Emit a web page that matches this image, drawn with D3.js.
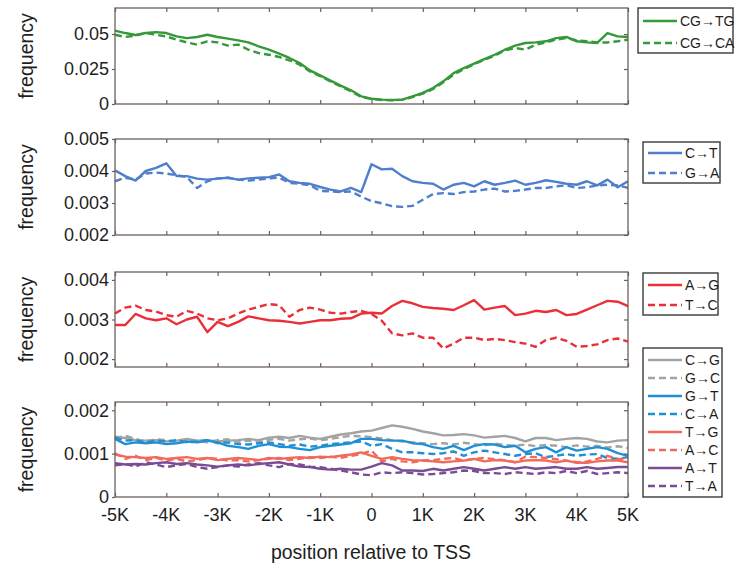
<!DOCTYPE html>
<html>
<head>
<meta charset="utf-8">
<script src="https://cdn.jsdelivr.net/npm/d3@7"></script>
<style>
  body { margin: 0; background: #fff; }
  text { font-family: "Liberation Sans", Arial, sans-serif; fill: #1e1e1e; }
</style>
</head>
<body>
<script>
// Sampling grid along the promoter region (bp relative to TSS).
const positions = d3.range(-5000, 5001, 200);
const xTicks = [-5000, -4000, -3000, -2000, -1000, 0, 1000, 2000, 3000, 4000, 5000];
const xTickLabels = ["-5K", "-4K", "-3K", "-2K", "-1K", "0", "1K", "2K", "3K", "4K", "5K"];

// Panel 1: CpG transitions
const cgTG = [0.0524,0.0507,0.0493,0.0507,0.0514,0.0507,0.0483,0.0471,0.0479,0.0495,0.0479,0.0467,0.0455,0.0440,0.0412,0.0388,0.0360,0.0329,0.0293,0.0240,0.0205,0.0167,0.0131,0.0098,0.0055,
  0.0038,0.0031,0.0029,0.0031,0.0055,0.0079,0.0114,0.0162,0.0221,0.0257,0.0288,0.0321,0.0352,0.0388,0.0417,0.0436,0.0440,0.0448,0.0471,0.0479,0.0448,0.0440,0.0436,0.0507,0.0483,0.0479];
const cgCA = [0.0495,0.0479,0.0488,0.0507,0.0495,0.0483,0.0460,0.0440,0.0424,0.0448,0.0440,0.0417,0.0424,0.0388,0.0364,0.0352,0.0336,0.0312,0.0281,0.0233,0.0198,0.0162,0.0126,0.0090,0.0050,
  0.0036,0.0029,0.0026,0.0031,0.0050,0.0074,0.0107,0.0155,0.0210,0.0250,0.0283,0.0317,0.0345,0.0383,0.0400,0.0388,0.0424,0.0440,0.0460,0.0471,0.0455,0.0448,0.0440,0.0440,0.0448,0.0460];

// Panel 2
const cT = [0.00402,0.00384,0.00370,0.00400,0.00410,0.00424,0.00384,0.00384,0.00376,0.00373,0.00376,0.00379,0.00373,0.00377,0.00379,0.00381,0.00389,0.00368,0.00363,0.00360,0.00350,0.00342,0.00336,0.00347,0.00334,
  0.00421,0.00405,0.00407,0.00384,0.00368,0.00363,0.00360,0.00342,0.00357,0.00363,0.00352,0.00368,0.00357,0.00363,0.00370,0.00357,0.00363,0.00371,0.00366,0.00360,0.00357,0.00368,0.00355,0.00373,0.00349,0.00368];
const gA = [0.00368,0.00379,0.00373,0.00392,0.00395,0.00392,0.00387,0.00381,0.00347,0.00368,0.00377,0.00379,0.00373,0.00370,0.00373,0.00377,0.00379,0.00363,0.00360,0.00355,0.00338,0.00336,0.00334,0.00336,0.00320,
  0.00306,0.00299,0.00290,0.00288,0.00291,0.00310,0.00328,0.00331,0.00328,0.00334,0.00336,0.00342,0.00345,0.00336,0.00338,0.00342,0.00347,0.00347,0.00352,0.00355,0.00347,0.00349,0.00355,0.00357,0.00355,0.00347];

// Panel 3
const aG = [0.00286,0.00286,0.00314,0.00303,0.00298,0.00303,0.00288,0.00300,0.00307,0.00268,0.00294,0.00283,0.00294,0.00308,0.00303,0.00298,0.00297,0.00294,0.00290,0.00294,0.00298,0.00298,0.00302,0.00303,0.00315,
  0.00317,0.00315,0.00334,0.00347,0.00341,0.00332,0.00329,0.00327,0.00324,0.00336,0.00349,0.00325,0.00330,0.00334,0.00311,0.00315,0.00322,0.00319,0.00324,0.00311,0.00314,0.00325,0.00336,0.00347,0.00345,0.00334];
const tC = [0.00315,0.00330,0.00335,0.00324,0.00320,0.00311,0.00307,0.00322,0.00315,0.00303,0.00298,0.00303,0.00315,0.00325,0.00332,0.00339,0.00336,0.00307,0.00324,0.00330,0.00325,0.00317,0.00315,0.00319,0.00322,
  0.00314,0.00297,0.00265,0.00260,0.00265,0.00254,0.00254,0.00227,0.00239,0.00254,0.00254,0.00248,0.00251,0.00248,0.00243,0.00239,0.00231,0.00248,0.00254,0.00246,0.00231,0.00233,0.00237,0.00248,0.00252,0.00244];

// Panel 4: transversions
const cG = [0.00139,0.00136,0.00131,0.00130,0.00131,0.00128,0.00130,0.00134,0.00130,0.00131,0.00128,0.00130,0.00131,0.00134,0.00131,0.00137,0.00139,0.00136,0.00141,0.00137,0.00134,0.00139,0.00144,0.00147,0.00151,
  0.00153,0.00159,0.00165,0.00162,0.00157,0.00151,0.00147,0.00142,0.00143,0.00145,0.00142,0.00137,0.00139,0.00141,0.00136,0.00128,0.00136,0.00136,0.00131,0.00134,0.00136,0.00134,0.00128,0.00126,0.00130,0.00131];
const gC = [0.00136,0.00141,0.00134,0.00128,0.00133,0.00131,0.00127,0.00132,0.00129,0.00126,0.00131,0.00133,0.00127,0.00130,0.00128,0.00132,0.00134,0.00130,0.00133,0.00135,0.00131,0.00134,0.00138,0.00141,0.00140,
  0.00138,0.00135,0.00131,0.00128,0.00126,0.00124,0.00122,0.00124,0.00121,0.00125,0.00122,0.00119,0.00123,0.00120,0.00118,0.00121,0.00117,0.00120,0.00118,0.00115,0.00119,0.00116,0.00118,0.00114,0.00117,0.00113];
const gT = [0.00134,0.00122,0.00126,0.00124,0.00126,0.00122,0.00124,0.00128,0.00126,0.00130,0.00126,0.00118,0.00115,0.00111,0.00118,0.00122,0.00116,0.00115,0.00111,0.00108,0.00115,0.00118,0.00121,0.00124,0.00134,
  0.00134,0.00131,0.00130,0.00130,0.00124,0.00122,0.00115,0.00111,0.00118,0.00108,0.00118,0.00122,0.00121,0.00115,0.00118,0.00103,0.00111,0.00115,0.00103,0.00115,0.00107,0.00111,0.00115,0.00111,0.00101,0.00095];
const cA = [0.00137,0.00130,0.00131,0.00126,0.00130,0.00128,0.00131,0.00126,0.00128,0.00131,0.00124,0.00126,0.00122,0.00121,0.00124,0.00126,0.00122,0.00118,0.00121,0.00116,0.00118,0.00122,0.00124,0.00126,0.00128,
  0.00118,0.00122,0.00111,0.00103,0.00103,0.00101,0.00099,0.00101,0.00105,0.00095,0.00103,0.00107,0.00103,0.00099,0.00095,0.00099,0.00101,0.00092,0.00095,0.00099,0.00095,0.00098,0.00099,0.00090,0.00088,0.00092];
const tG = [0.00098,0.00093,0.00092,0.00090,0.00092,0.00088,0.00090,0.00092,0.00088,0.00090,0.00085,0.00088,0.00090,0.00088,0.00085,0.00090,0.00088,0.00090,0.00092,0.00090,0.00093,0.00092,0.00095,0.00098,0.00103,
  0.00095,0.00088,0.00092,0.00088,0.00085,0.00084,0.00082,0.00080,0.00082,0.00084,0.00088,0.00082,0.00085,0.00084,0.00080,0.00084,0.00085,0.00084,0.00080,0.00084,0.00079,0.00079,0.00082,0.00084,0.00084,0.00080];
const aC = [0.00101,0.00088,0.00095,0.00085,0.00090,0.00084,0.00088,0.00082,0.00085,0.00090,0.00088,0.00084,0.00085,0.00082,0.00085,0.00088,0.00090,0.00085,0.00088,0.00092,0.00090,0.00093,0.00090,0.00095,0.00099,
  0.00107,0.00082,0.00088,0.00082,0.00080,0.00084,0.00085,0.00088,0.00090,0.00084,0.00088,0.00090,0.00087,0.00085,0.00080,0.00093,0.00092,0.00090,0.00087,0.00084,0.00080,0.00082,0.00088,0.00095,0.00088,0.00088];
const aT = [0.00078,0.00075,0.00076,0.00075,0.00078,0.00080,0.00076,0.00078,0.00075,0.00073,0.00070,0.00073,0.00075,0.00073,0.00076,0.00078,0.00080,0.00075,0.00070,0.00069,0.00065,0.00063,0.00065,0.00063,0.00063,
  0.00070,0.00078,0.00073,0.00061,0.00061,0.00060,0.00065,0.00061,0.00065,0.00069,0.00065,0.00061,0.00065,0.00069,0.00065,0.00069,0.00065,0.00067,0.00069,0.00065,0.00065,0.00069,0.00065,0.00067,0.00069,0.00069];
const tA = [0.00073,0.00076,0.00070,0.00080,0.00075,0.00069,0.00073,0.00076,0.00069,0.00065,0.00069,0.00073,0.00070,0.00075,0.00078,0.00073,0.00069,0.00076,0.00075,0.00070,0.00069,0.00065,0.00061,0.00057,0.00052,
  0.00050,0.00057,0.00055,0.00057,0.00055,0.00052,0.00053,0.00055,0.00057,0.00061,0.00060,0.00055,0.00055,0.00053,0.00057,0.00055,0.00053,0.00057,0.00055,0.00060,0.00055,0.00060,0.00053,0.00055,0.00057,0.00055];

const width = 739, height = 568;
const frame = "#6b605a";
const dash = "7,4";

const x = d3.scaleLinear([-5000, 5000], [115, 628]);

// Layout of the four stacked panels and their legends.
const panels = [
  { top: 8, bottom: 104, domain: [0, 0.0686], ticks: [0, 0.025, 0.05], labels: ["0", "0.025", "0.05"],
    legend: { x: 638, y: 8, w: 95, h: 45, first: 13, step: 22 },
    series: [
      { name: "CG\u2192TG", values: cgTG, color: "#35993a", dashed: false },
      { name: "CG\u2192CA", values: cgCA, color: "#35993a", dashed: true }
    ] },
  { top: 139, bottom: 235, domain: [0.002, 0.005], ticks: [0.002, 0.003, 0.004, 0.005], labels: ["0.002", "0.003", "0.004", "0.005"],
    legend: { x: 643, y: 142, w: 77, h: 41, first: 11, step: 20 },
    series: [
      { name: "C\u2192T", values: cT, color: "#4f7fcc", dashed: false },
      { name: "G\u2192A", values: gA, color: "#4f7fcc", dashed: true }
    ] },
  { top: 272, bottom: 367, domain: [0.0018, 0.0042], ticks: [0.002, 0.003, 0.004], labels: ["0.002", "0.003", "0.004"],
    legend: { x: 643, y: 273, w: 75, h: 42, first: 12, step: 20 },
    series: [
      { name: "A\u2192G", values: aG, color: "#ea2f38", dashed: false },
      { name: "T\u2192C", values: tC, color: "#ea2f38", dashed: true }
    ] },
  { top: 402, bottom: 497, domain: [0, 0.00219], ticks: [0, 0.001, 0.002], labels: ["0", "0.001", "0.002"],
    legend: { x: 643, y: 348, w: 79, h: 149, first: 12, step: 18 },
    series: [
      { name: "C\u2192G", values: cG, color: "#a3a3a3", dashed: false },
      { name: "G\u2192C", values: gC, color: "#a3a3a3", dashed: true },
      { name: "G\u2192T", values: gT, color: "#1f8fd6", dashed: false },
      { name: "C\u2192A", values: cA, color: "#1f8fd6", dashed: true },
      { name: "T\u2192G", values: tG, color: "#f26a5c", dashed: false },
      { name: "A\u2192C", values: aC, color: "#f26a5c", dashed: true },
      { name: "A\u2192T", values: aT, color: "#7b4b93", dashed: false },
      { name: "T\u2192A", values: tA, color: "#7b4b93", dashed: true }
    ] }
];

const svg = d3.select("body").append("svg")
  .attr("width", width)
  .attr("height", height);

panels.forEach((p, k) => {
  const y = d3.scaleLinear(p.domain, [p.bottom, p.top]);
  const g = svg.append("g");

  // Draw the series, solid first then dashed as in the original.
  const line = d3.line()
    .x((d, i) => x(positions[i]))
    .y((d) => y(d));

  g.selectAll("path.series")
    .data(p.series)
    .join("path")
    .attr("class", "series")
    .attr("fill", "none")
    .attr("stroke", (d) => d.color)
    .attr("stroke-width", 2.4)
    .attr("stroke-linejoin", "round")
    .attr("stroke-dasharray", (d) => (d.dashed ? dash : null))
    .attr("d", (d) => line(d.values));

  // Box around the plot.
  g.append("rect")
    .attr("x", x.range()[0])
    .attr("y", p.top)
    .attr("width", x.range()[1] - x.range()[0])
    .attr("height", p.bottom - p.top)
    .attr("fill", "none")
    .attr("stroke", frame)
    .attr("stroke-width", 1.3);

  // Inward ticks on top and bottom.
  g.append("g").attr("transform", `translate(0,${p.bottom})`)
    .call(d3.axisTop(x).tickValues(xTicks).tickSize(4).tickFormat(""))
    .call((a) => a.select(".domain").remove());
  g.append("g").attr("transform", `translate(0,${p.top})`)
    .call(d3.axisBottom(x).tickValues(xTicks).tickSize(4).tickFormat(""))
    .call((a) => a.select(".domain").remove());

  // Y ticks: labels on the left, inward marks on the right.
  g.append("g").attr("transform", `translate(${x.range()[0]},0)`)
    .call(d3.axisLeft(y).tickValues(p.ticks).tickSize(3).tickPadding(3)
      .tickFormat((d, i) => p.labels[i]))
    .call((a) => a.select(".domain").remove())
    .call((a) => a.selectAll("text").attr("font-size", 18).attr("fill", "#1e1e1e")
      .attr("font-family", "Liberation Sans, Arial, sans-serif"));
  g.append("g").attr("transform", `translate(${x.range()[1]},0)`)
    .call(d3.axisLeft(y).tickValues(p.ticks).tickSize(4).tickFormat(""))
    .call((a) => a.select(".domain").remove());

  g.selectAll(".tick line").attr("stroke", frame).attr("stroke-width", 1.2);

  // Y axis title.
  g.append("text")
    .attr("transform", `translate(33,${(p.top + p.bottom) / 2}) rotate(-90)`)
    .attr("text-anchor", "middle")
    .attr("font-size", 19.5)
    .text("frequency");

  // Legend box.
  const L = p.legend;
  const lg = g.append("g").attr("transform", `translate(${L.x},${L.y})`);
  lg.append("rect")
    .attr("width", L.w).attr("height", L.h)
    .attr("fill", "#fff").attr("stroke", "#3a3a3a").attr("stroke-width", 1.4);
  const row = lg.selectAll("g.row").data(p.series).join("g")
    .attr("class", "row")
    .attr("transform", (d, i) => `translate(0,${L.first + i * L.step})`);
  row.append("line")
    .attr("x1", 5).attr("x2", 39)
    .attr("stroke", (d) => d.color)
    .attr("stroke-width", 2.4)
    .attr("stroke-dasharray", (d) => (d.dashed ? dash : null));
  row.append("text")
    .attr("x", 42)
    .attr("dy", "0.35em")
    .attr("font-size", 14)
    .attr("fill", "#333")
    .text((d) => d.name);

  // X tick labels only under the last panel.
  if (k === panels.length - 1) {
    g.selectAll("text.xl").data(xTicks).join("text")
      .attr("class", "xl")
      .attr("x", (d) => x(d))
      .attr("y", p.bottom + 24)
      .attr("text-anchor", "middle")
      .attr("font-size", 18)
      .text((d, i) => xTickLabels[i]);
  }
});

svg.append("text")
  .attr("x", 371)
  .attr("y", 559)
  .attr("text-anchor", "middle")
  .attr("font-size", 19.5)
  .text("position relative to TSS");
</script>
</body>
</html>
